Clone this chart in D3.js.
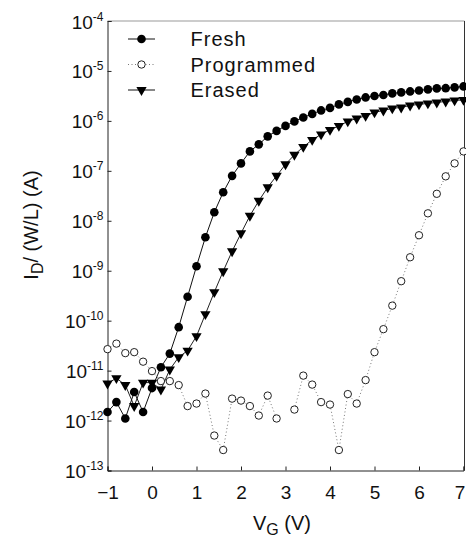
<!DOCTYPE html>
<html>
<head>
<meta charset="utf-8">
<script src="https://cdn.jsdelivr.net/npm/d3@7"></script>
<style>
  html, body { margin: 0; padding: 0; background: #fff; }
  svg { display: block; }
  text { font-family: "Liberation Sans", Arial, sans-serif; fill: #111; }
</style>
</head>
<body>
<svg id="chart" width="466" height="542"></svg>
<script>
// ---- Data ----
const vg = [-1.0,-0.8,-0.6,-0.4,-0.2,0.0,0.2,0.4,0.6,0.8,1.0,1.2,1.4,1.6,1.8,2.0,2.2,2.4,2.6,2.8,3.0,
            3.2,3.4,3.6,3.8,4.0,4.2,4.4,4.6,4.8,5.0,5.2,5.4,5.6,5.8,6.0,6.2,6.4,6.6,6.8,7.0];

const fresh = [1.48e-12,2.34e-12,1.10e-12,3.72e-12,1.48e-12,4.47e-12,1.17e-11,2.19e-11,7.41e-11,3.02e-10,
               1.23e-9,4.68e-9,1.48e-8,3.72e-8,7.94e-8,1.41e-7,2.45e-7,3.39e-7,4.90e-7,6.31e-7,7.94e-7,
               9.77e-7,1.17e-6,1.38e-6,1.62e-6,1.82e-6,2.14e-6,2.40e-6,2.69e-6,2.95e-6,3.16e-6,
               3.31e-6,3.55e-6,3.72e-6,3.89e-6,4.07e-6,4.27e-6,4.47e-6,4.52e-6,4.68e-6,4.90e-6];

const programmed = [2.69e-11,3.47e-11,2.24e-11,2.34e-11,1.51e-11,9.77e-12,6.17e-12,6.17e-12,5.13e-12,1.95e-12,
                    2.19e-12,3.47e-12,5.01e-13,2.57e-13,2.75e-12,2.51e-12,1.95e-12,1.26e-12,3.16e-12,1.10e-12,null,
                    1.66e-12,7.94e-12,5.25e-12,2.34e-12,2.09e-12,2.57e-13,3.39e-12,2.19e-12,6.46e-12,2.34e-11,
                    6.76e-11,2.00e-10,6.17e-10,1.86e-9,5.13e-9,1.41e-8,3.47e-8,7.76e-8,1.41e-7,2.45e-7];

const erased = [5.50e-12,7.08e-12,5.13e-12,1.95e-12,5.75e-12,5.75e-12,4.17e-12,1.05e-11,1.86e-11,2.51e-11,
                4.90e-11,1.35e-10,3.72e-10,9.77e-10,2.45e-9,5.62e-9,1.26e-8,2.51e-8,4.68e-8,7.94e-8,1.35e-7,
                2.09e-7,3.02e-7,4.17e-7,5.37e-7,6.61e-7,7.94e-7,9.77e-7,1.12e-6,1.26e-6,1.48e-6,
                1.62e-6,1.78e-6,1.86e-6,2.04e-6,2.14e-6,2.24e-6,2.34e-6,2.45e-6,2.57e-6,2.63e-6];

const xTicks = [-1,0,1,2,3,4,5,6,7];
const yTickExps = [-4,-5,-6,-7,-8,-9,-10,-11,-12,-13];
const seriesNames = ["Fresh","Programmed","Erased"];
const xTitle = {main:"V", sub:"G", rest:" (V)"};
const yTitle = {main:"I", sub:"D", rest:"/ (W/L) (A)"};

// ---- Layout ----
const svg = d3.select("#chart");
const L = 107.5, R = 463.5, T = 21, B = 470.5;
const x = d3.scaleLinear().domain([-1,7]).range([L,R]);
const y = d3.scaleLog().domain([1e-13,1e-4]).range([B,T]);

// frame
svg.append("line").attr("x1",L).attr("x2",R+1).attr("y1",T).attr("y2",T).attr("stroke","#999").attr("stroke-width",1);
svg.append("line").attr("x1",R+1).attr("x2",R+1).attr("y1",T).attr("y2",B).attr("stroke","#333").attr("stroke-width",1);

// x axis
const gx = svg.append("g").attr("transform",`translate(0,${B})`)
  .call(d3.axisBottom(x).tickValues(xTicks).tickSize(-4).tickPadding(15).tickFormat(d3.format("d")));
gx.select(".domain").attr("stroke","#222");
gx.selectAll(".tick line").attr("stroke","#222");
gx.selectAll(".tick text").style("font-size","19px").attr("fill","#111")
  .attr("x", d => d === 7 ? -4 : 0);

// y axis
const gy = svg.append("g").attr("transform",`translate(${L},0)`)
  .call(d3.axisLeft(y).tickValues(yTickExps.map(e=>Math.pow(10,e))).tickSize(-4).tickPadding(4).tickFormat(""));
gy.select(".domain").attr("stroke","#222");
gy.selectAll(".tick line").attr("stroke","#222");
gy.selectAll(".tick").each(function(d,i){
  const t = d3.select(this).select("text").attr("dy",null).attr("y",7).attr("x",-4).style("font-size","19px");
  t.text(null);
  t.append("tspan").text("10");
  t.append("tspan").attr("dy",-8).style("font-size","12px").text(String(yTickExps[i]));
});

// ---- Series ----
const mk = (vals) => vg.map((v,i)=>({x:v, y:vals[i]}));
const dFresh = mk(fresh), dProg = mk(programmed), dErased = mk(erased);
const line = d3.line().defined(d=>d.y!=null).x(d=>x(d.x)).y(d=>y(d.y));

const plot = svg.append("g");
plot.append("path").datum(dProg).attr("d",line).attr("fill","none")
  .attr("stroke","#777").attr("stroke-width",1).attr("stroke-dasharray","1,2.5");
plot.append("path").datum(dErased).attr("d",line).attr("fill","none")
  .attr("stroke","#222").attr("stroke-width",1);
plot.append("path").datum(dFresh).attr("d",line).attr("fill","none")
  .attr("stroke","#111").attr("stroke-width",1);

const tri = d3.symbol().type(d3.symbolTriangle).size(46);

plot.selectAll(".p").data(dProg.filter(d=>d.y!=null)).join("circle")
  .attr("cx",d=>x(d.x)).attr("cy",d=>y(d.y)).attr("r",3.7)
  .attr("fill","#fff").attr("stroke","#222").attr("stroke-width",1);
plot.selectAll(".e").data(dErased).join("path")
  .attr("d",tri).attr("transform",d=>`translate(${x(d.x)},${y(d.y)}) rotate(180)`)
  .attr("fill","#000");
plot.selectAll(".f").data(dFresh).join("circle")
  .attr("cx",d=>x(d.x)).attr("cy",d=>y(d.y)).attr("r",4.3).attr("fill","#000");

// ---- Legend ----
const lg = svg.append("g");
const rowsY = [39, 64.5, 90];
seriesNames.forEach((name,i)=>{
  const yy = rowsY[i];
  const ln = lg.append("line").attr("x1",128).attr("x2",155).attr("y1",yy).attr("y2",yy).attr("stroke-width",1);
  if (i===1) ln.attr("stroke","#777").attr("stroke-dasharray","1,2.5");
  else ln.attr("stroke","#111");
  if (i===0) lg.append("circle").attr("cx",141.5).attr("cy",yy).attr("r",4.3).attr("fill","#000");
  if (i===1) lg.append("circle").attr("cx",141.5).attr("cy",yy).attr("r",3.7).attr("fill","#fff").attr("stroke","#222");
  if (i===2) lg.append("path").attr("d",tri).attr("transform",`translate(141.5,${yy}) rotate(180)`).attr("fill","#000");
  lg.append("text").attr("x",190.5).attr("y",yy+7).style("font-size","20px").style("letter-spacing","1px").text(name);
});

// ---- Axis titles ----
const xt = svg.append("text").attr("x",282).attr("y",530).attr("text-anchor","middle").style("font-size","20px");
xt.append("tspan").text(xTitle.main);
xt.append("tspan").attr("dy",5).style("font-size","16px").text(xTitle.sub);
xt.append("tspan").attr("dy",-5).text(xTitle.rest);

const yt = svg.append("text").attr("transform","translate(37.5,225) rotate(-90)").attr("text-anchor","middle").style("font-size","20px");
yt.append("tspan").text(yTitle.main);
yt.append("tspan").attr("dy",5).style("font-size","16px").text(yTitle.sub);
yt.append("tspan").attr("dy",-5).text(yTitle.rest);
</script>
</body>
</html>
